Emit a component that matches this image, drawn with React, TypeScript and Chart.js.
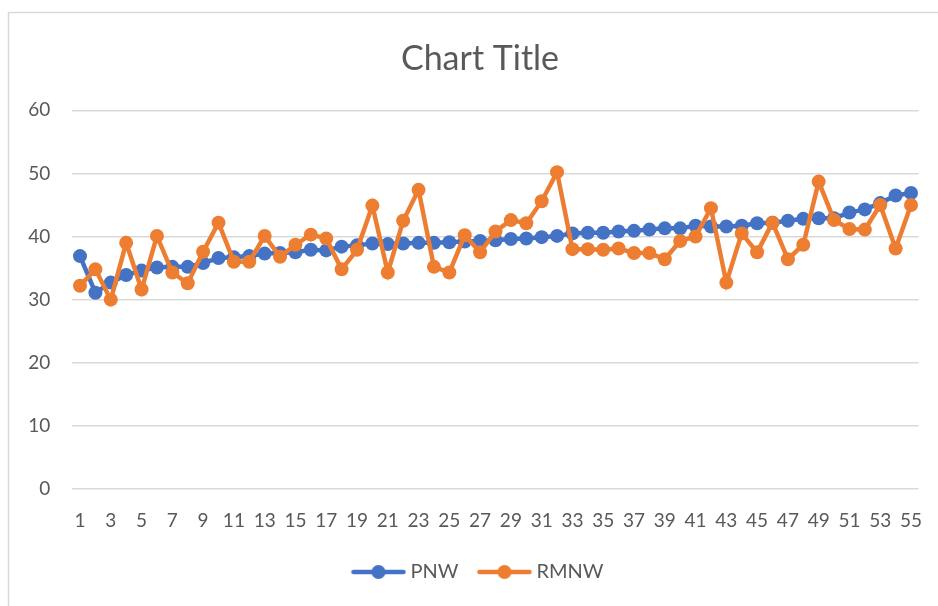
import React, { useEffect, useRef } from "react";
import { Chart, registerables } from "chart.js";

Chart.register(...registerables);

const categories: string[] = Array.from({ length: 55 }, (_, i) => String(i + 1));

const pnwValues: number[] = [
  36.9, 31.1, 32.7, 33.9, 34.6, 35.1, 35.2, 35.2, 35.8, 36.6,
  36.7, 36.9, 37.3, 37.4, 37.5, 37.9, 37.8, 38.4, 38.6, 38.9,
  38.8, 38.9, 39.0, 39.0, 39.1, 39.2, 39.3, 39.4, 39.6, 39.7,
  39.9, 40.1, 40.5, 40.6, 40.6, 40.8, 40.9, 41.1, 41.3, 41.3,
  41.7, 41.6, 41.6, 41.7, 42.1, 42.2, 42.5, 42.8, 42.9, 42.9,
  43.8, 44.3, 45.3, 46.5, 46.9,
];

const rmnwValues: number[] = [
  32.2, 34.8, 30.0, 39.0, 31.6, 40.1, 34.3, 32.6, 37.6, 42.2,
  36.0, 36.0, 40.1, 36.8, 38.7, 40.3, 39.7, 34.8, 37.9, 44.9,
  34.3, 42.5, 47.4, 35.2, 34.3, 40.2, 37.5, 40.8, 42.6, 42.1,
  45.6, 50.2, 38.0, 38.0, 37.9, 38.1, 37.4, 37.4, 36.4, 39.3,
  40.0, 44.5, 32.7, 40.5, 37.5, 42.2, 36.4, 38.7, 48.7, 42.6,
  41.2, 41.1, 45.0, 38.1, 45.0,
];

const seriesNames: string[] = ["PNW", "RMNW"];
const seriesColors: string[] = ["#4472C4", "#ED7D31"];

const TEXT = "#595959";
const GRID = "#d9d9d9";
const FONT = "Lato";

const W = 938;
const H = 606;
const PAD_LEFT = 22;
const PLOT_LEFT = 72.3;
const PLOT_RIGHT = 918.7;
const PLOT_BOTTOM = 489;
const PAD_BOTTOM = 14;

function legendMarker(color: string): HTMLCanvasElement {
  const c = document.createElement("canvas");
  c.width = 56;
  c.height = 16;
  const ctx = c.getContext("2d")!;
  ctx.strokeStyle = color;
  ctx.lineWidth = 4.5;
  ctx.lineCap = "round";
  ctx.beginPath();
  ctx.moveTo(3, 8);
  ctx.lineTo(53, 8);
  ctx.stroke();
  ctx.fillStyle = color;
  ctx.beginPath();
  ctx.arc(28, 8, 7, 0, Math.PI * 2);
  ctx.fill();
  return c;
}

const borderPlugin = {
  id: "excelBorder",
  beforeDraw(chart: any) {
    const ctx = chart.ctx;
    ctx.save();
    ctx.strokeStyle = GRID;
    ctx.lineWidth = 1.5;
    ctx.beginPath();
    ctx.moveTo(8.5, H);
    ctx.lineTo(8.5, 12.5);
    ctx.lineTo(W, 12.5);
    ctx.stroke();
    ctx.restore();
  },
};

export default function App() {
  const ref = useRef<HTMLCanvasElement | null>(null);

  useEffect(() => {
    if (!ref.current) return;
    const markers = seriesColors.map(legendMarker);
    const chart = new Chart(ref.current, {
      type: "line",
      data: {
        labels: categories,
        datasets: [
          {
            label: seriesNames[0],
            data: pnwValues,
            borderColor: seriesColors[0],
            backgroundColor: seriesColors[0],
            pointBackgroundColor: seriesColors[0],
            pointBorderWidth: 0,
            pointRadius: 7,
            borderWidth: 4.5,
            tension: 0,
            order: 1,
          },
          {
            label: seriesNames[1],
            data: rmnwValues,
            borderColor: seriesColors[1],
            backgroundColor: seriesColors[1],
            pointBackgroundColor: seriesColors[1],
            pointBorderWidth: 0,
            pointRadius: 7,
            borderWidth: 4.5,
            tension: 0,
            order: 0,
          },
        ],
      },
      options: {
        animation: false,
        responsive: false,
        devicePixelRatio: 1,
        elements: { point: { pointStyle: "circle" } },
        layout: {
          padding: { left: PAD_LEFT, top: 0, right: 0, bottom: PAD_BOTTOM },
        },
        plugins: {
          title: {
            display: true,
            text: "Chart Title",
            color: TEXT,
            font: { family: FONT, size: 34, weight: "normal" as any },
            padding: { top: 38.4, bottom: 31.1 },
          },
          legend: {
            position: "bottom",
            labels: {
              usePointStyle: true,
              pointStyleWidth: 44,
              padding: 24,
              color: TEXT,
              font: { family: FONT, size: 20 },
              sort: (a: any, b: any) => a.datasetIndex - b.datasetIndex,
              generateLabels: (chart: any) =>
                chart.data.datasets.map((ds: any, i: number) => ({
                  text: ds.label,
                  fillStyle: seriesColors[i],
                  strokeStyle: seriesColors[i],
                  lineWidth: 0,
                  pointStyle: markers[i],
                  hidden: false,
                  datasetIndex: i,
                  fontColor: TEXT,
                })),
            },
          },
          tooltip: { enabled: false },
        },
        scales: {
          x: {
            offset: true,
            grid: { display: false, drawTicks: true, tickLength: 20 },
            border: { display: false },
            afterFit: (scale: any) => {
              const lg = scale.chart.legend;
              scale.height = H - PAD_BOTTOM - (lg ? lg.height : 54) - PLOT_BOTTOM;
            },
            ticks: {
              autoSkip: false,
              maxRotation: 0,
              minRotation: 0,
              padding: 0,
              color: TEXT,
              font: { family: FONT, size: 19 },
              callback: (_v: any, i: number) => (i % 2 === 0 ? categories[i] : ""),
            },
          },
          y: {
            min: 0,
            max: 60,
            grid: { color: GRID, lineWidth: 1.5, drawTicks: false },
            border: { display: false },
            afterFit: (scale: any) => {
              scale.width = PLOT_LEFT - PAD_LEFT;
            },
            ticks: {
              stepSize: 10,
              padding: 22,
              color: TEXT,
              font: { family: FONT, size: 19 },
            },
          },
          yRight: {
            position: "right",
            display: true,
            min: 0,
            max: 60,
            grid: { display: false, drawTicks: false },
            border: { display: false },
            ticks: { display: false },
            afterFit: (scale: any) => {
              scale.width = W - PLOT_RIGHT;
            },
          },
        },
      },
      plugins: [borderPlugin],
    });
    return () => chart.destroy();
  }, []);

  return (
    <div style={{ position: "absolute", left: 0, top: 0, width: W, height: H, background: "#fff" }}>
      <canvas ref={ref} width={W} height={H} style={{ display: "block" }} />
    </div>
  );
}
